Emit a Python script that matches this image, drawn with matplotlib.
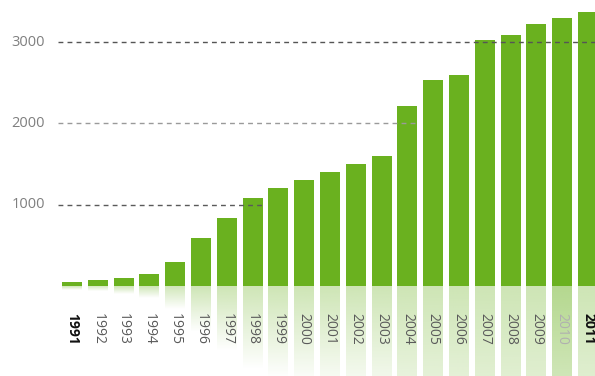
import matplotlib
matplotlib.use("Agg")
import matplotlib.pyplot as plt
import numpy as np
from matplotlib.colors import to_rgb

years = [str(y) for y in range(1991, 2012)]
values = [50, 70, 100, 150, 300, 590, 840, 1080, 1200, 1300, 1405, 1500, 1605,
          2210, 2540, 2590, 3030, 3085, 3225, 3300, 3370]
yticks = [1000, 2000, 3000]
grid_colors = ["#5a5a5a", "#9a9a9a", "#555555"]

BAR = "#6ab11f"
plt.rcParams['font.family'] = ['Open Sans', 'DejaVu Sans']

fig = plt.figure(figsize=(5.95, 3.76), dpi=100)
ax = fig.add_axes([0, 0, 1, 1])
ax.set_axis_off()

x = np.arange(len(years))
w = 0.77
ax.bar(x, values, width=w, color=BAR, zorder=2)

# reflections
rgb = to_rgb(BAR)
n = 200
for i, v in enumerate(values):
    a0 = 0.50 if years[i] == "2010" else 0.33
    grad = np.linspace(a0, 0.0, n)[:, None]
    img = np.zeros((n, 1, 4))
    img[..., 0], img[..., 1], img[..., 2] = rgb
    img[..., 3] = grad
    ax.imshow(img, extent=[i - w / 2, i + w / 2, -0.95 * v, 0], aspect='auto',
              interpolation='bilinear', zorder=1)

# gridlines (drawn on top, end near first bar that crosses them)
for t, gc in zip(yticks, grid_colors):
    idx = next((k for k, v in enumerate(values) if v > t), None)
    if t == 3000 or idx is None:
        xe = len(years)
    else:
        xe = idx + 0.35
    ax.plot([-0.55, xe], [t, t], color=gc, lw=1.0, ls=(0, (3.5, 3)),
            zorder=3)
    ax.text(-1.05, t, str(t), ha='right', va='center', fontsize=10.5,
            color="#7f7f7f")

for i, yr in enumerate(years):
    if yr in ("1991", "2011"):
        c, fw = "#111111", "bold"
    elif yr == "2010":
        c, fw = "#b0b0b0", "normal"
    else:
        c, fw = "#5a5a5a", "normal"
    ax.text(i, -330, yr, rotation=270, ha='center', va='top', fontsize=10,
            color=c, fontweight=fw, zorder=4)

ax.set_xlim(-2.79, 20.27)
ax.set_ylim(-1107, 3518)

fig.savefig("out.png", dpi=100)
